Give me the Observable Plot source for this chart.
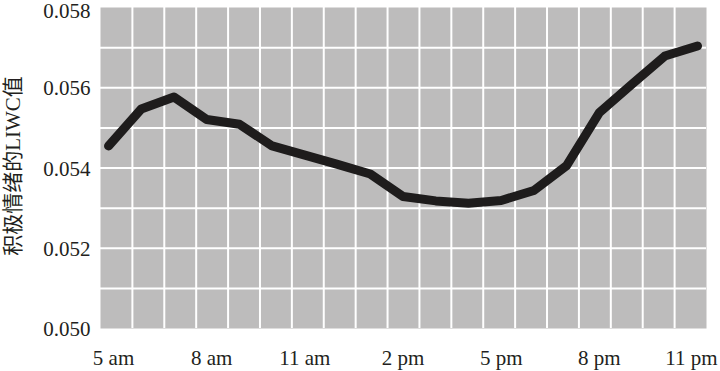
<!DOCTYPE html>
<html>
<head>
<meta charset="utf-8">
<script src="https://cdn.jsdelivr.net/npm/d3@7"></script>
<script src="https://cdn.jsdelivr.net/npm/@observablehq/plot@0.6"></script>
<style>
  html, body { margin: 0; padding: 0; background: #ffffff; }
  #chart svg { display: block; }
</style>
</head>
<body>
<div id="chart"></div>
<script>
// Hours of the day (5 am .. 11 pm)
const hours = [5, 6, 7, 8, 9, 10, 11, 12, 13, 14, 15, 16, 17, 18, 19, 20, 21, 22, 23];
// Positive-emotion LIWC value per hour
const values = [0.05455, 0.05547, 0.05577, 0.05521, 0.05509, 0.05455, 0.05432, 0.05409, 0.05385,
                0.05329, 0.05318, 0.05312, 0.05319, 0.05344, 0.05406, 0.05538, 0.05609, 0.05679, 0.05704];
const xTickValues = [5, 8, 11, 14, 17, 20, 23];
const xTickLabels = ["5 am", "8 am", "11 am", "2 pm", "5 pm", "8 pm", "11 pm"];
const yTickValues = [0.050, 0.052, 0.054, 0.056, 0.058];
const yGridValues = [0.051, 0.052, 0.053, 0.054, 0.055, 0.056, 0.057];
const yLabel = "积极情绪的LIWC值";

const data = hours.map((h, i) => ({hour: h, value: values[i]}));
const xDomain = [4.755, 23.275];
const nCols = 19;
const xGrid = d3.range(1, nCols).map(i => xDomain[0] + i * (xDomain[1] - xDomain[0]) / nCols);
const xLabelOf = (d) => xTickLabels[xTickValues.indexOf(d)];

const font = "'Liberation Serif', 'Times New Roman', 'Noto Sans CJK SC', serif";

const chart = Plot.plot({
  width: 720,
  height: 371,
  marginLeft: 100,
  marginRight: 14,
  marginTop: 7,
  marginBottom: 43,
  style: {fontFamily: font, fontSize: "21px", color: "#231f20", background: "#ffffff"},
  x: {domain: xDomain},
  y: {domain: [0.050, 0.058]},
  marks: [
    Plot.frame({fill: "#bdbcbc", stroke: null}),
    Plot.ruleX(xGrid, {stroke: "#ffffff", strokeWidth: 2}),
    Plot.ruleY(yGridValues, {stroke: "#ffffff", strokeWidth: 2}),
    Plot.axisX({
      ticks: xTickValues.slice(0, 2),
      tickFormat: xLabelOf,
      tickSize: 0,
      tickPadding: 22,
      dx: 5,
      label: null,
      fontSize: 21
    }),
    Plot.axisX({
      ticks: xTickValues.slice(2, 6),
      tickFormat: xLabelOf,
      tickSize: 0,
      tickPadding: 22,
      label: null,
      fontSize: 21
    }),
    Plot.axisX({
      ticks: xTickValues.slice(6),
      tickFormat: xLabelOf,
      tickSize: 0,
      tickPadding: 22,
      dx: -6,
      label: null,
      fontSize: 21
    }),
    Plot.axisY({
      ticks: yTickValues.slice(0, 4),
      tickFormat: d3.format(".3f"),
      tickSize: 0,
      tickPadding: 10,
      dy: 1,
      label: null,
      fontSize: 21
    }),
    Plot.axisY({
      ticks: yTickValues.slice(4),
      tickFormat: d3.format(".3f"),
      tickSize: 0,
      tickPadding: 10,
      dy: 4,
      label: null,
      fontSize: 21
    }),
    Plot.text([yLabel], {
      text: (d) => d,
      frameAnchor: "left",
      textAnchor: "middle",
      dx: -87,
      dy: -2,
      rotate: -90,
      fontSize: 21,
      fill: "#231f20"
    }),
    Plot.line(data, {
      x: "hour",
      y: "value",
      stroke: "#1e1c1c",
      strokeWidth: 9,
      strokeLinejoin: "round",
      strokeLinecap: "round"
    })
  ]
});

document.getElementById("chart").appendChild(chart);
</script>
</body>
</html>
